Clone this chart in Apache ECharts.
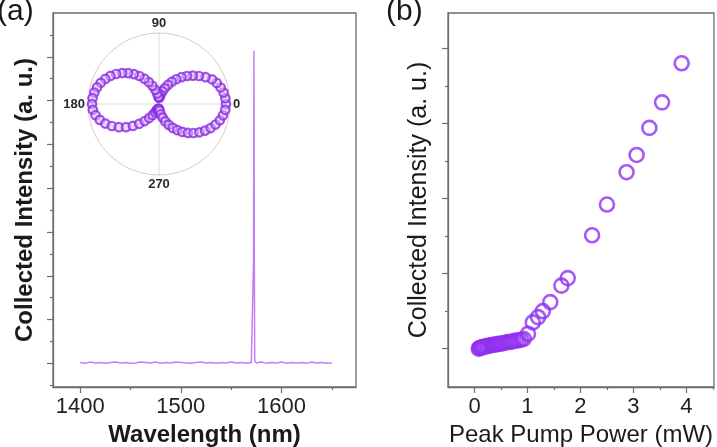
<!DOCTYPE html>
<html>
<head>
<meta charset="utf-8">
<script src="https://cdn.jsdelivr.net/npm/echarts@6/dist/echarts.min.js"></script>
<style>
html,body{margin:0;padding:0;background:#fff;}
#chart{width:717px;height:447px;}
</style>
</head>
<body>
<div id="chart"></div>
<script>
// ---------- Panel (a): spectrum ----------
const specWl = [1400,1405,1410,1415,1420,1425,1430,1435,1440,1445,1450,1455,1460,1465,1470,1475,1480,1485,1490,1495,1500,1505,1510,1515,1520,1525,1530,1535,1540,1545,1550,1555,1560,1565,1570,1571.8,1572.2,1572.6,1573.0,1573.4,1575,1580,1585,1590,1595,1600,1605,1610,1615,1620,1625,1630,1635,1640,1645,1650];
const specI = [0.02,0.00,0.03,0.01,0.02,0.00,0.02,0.03,0.01,0.02,0.00,0.01,0.03,0.02,0.01,0.03,0.00,0.02,0.01,0.03,0.02,0.01,0.00,0.02,0.03,0.01,0.02,0.00,0.02,0.01,0.03,0.01,0.02,0.00,0.02,0.05,2.3,7.14,2.3,0.06,0.01,0.03,0.00,0.02,0.01,0.03,0.00,0.02,0.01,0.02,0.00,0.03,0.01,0.02,0.00,0.01];
const aXTicks = [1400,1500,1600];
const aXMinor = [1450,1550,1650];
const aYTicks = [0,1,2,3,4,5,6,7];
const aYMinor = [-0.5,0.5,1.5,2.5,3.5,4.5,5.5,6.5,7.5];

// ---------- Inset: polar plot ----------
const polarAngle = [0,5,10,15,20,25,30,35,40,45,50,55,60,65,70,75,80,85,90,95,100,105,110,115,120,125,130,135,140,145,150,155,160,165,170,175,180,185,190,195,200,205,210,215,220,225,230,235,240,245,250,255,260,265,270,275,280,285,290,295,300,305,310,315,320,325,330,335,340,345,350,355];
const polarR = [67,66.6,65.6,63.8,61.5,58.5,53.7,48.8,44.1,39.6,35.0,30.2,25.6,21.0,16.7,13.0,9.5,6.8,6,7.2,10.6,14.7,19.4,24.2,29.2,34.2,39.0,43.7,48.1,52.3,56.1,59.3,62.0,64.2,65.7,66.7,67,66.4,64.4,61.3,57.1,52.0,46.4,40.3,34.1,28.0,22.3,17.2,12.7,9.1,6.6,5.4,5.0,4.9,5,6.8,10.4,14.1,18.5,23.0,27.6,32.0,36.4,40.9,45.1,49.3,53.2,56.9,60.1,63.0,65.0,66.5];
const polarTicks = [0,90,180,270];

// ---------- Panel (b): intensity vs pump power ----------
const powX = [0.08,0.10,0.12,0.14,0.16,0.19,0.22,0.25,0.28,0.32,0.36,0.40,0.44,0.48,0.53,0.58,0.63,0.68,0.73,0.78,0.83,0.88,0.93,1.01,1.10,1.20,1.29,1.43,1.64,1.76,2.22,2.50,2.87,3.06,3.30,3.54,3.91];
const powY = [0.00,0.01,0.01,0.02,0.02,0.03,0.03,0.04,0.04,0.05,0.05,0.06,0.06,0.07,0.07,0.08,0.09,0.09,0.10,0.11,0.11,0.12,0.13,0.20,0.35,0.42,0.50,0.62,0.84,0.94,1.51,1.92,2.35,2.58,2.94,3.28,3.80];
const bXTicks = [0,1,2,3,4];
const bXMinor = [0.5,1.5,2.5,3.5,4.5];
const bYTicks = [0,1,2,3,4];
const bYMinor = [0.5,1.5,2.5,3.5];

const FONT = "'Liberation Sans', Arial, sans-serif";
const AX = '#6e6e6e';
const plain = function(v){ return String(v); };

function axisBase(extra){
  return Object.assign({
    type:'value',
    axisLine:{show:true, onZero:false, lineStyle:{color:AX, width:1.3}},
    splitLine:{show:false},
    axisLabel:{show:false},
    axisTick:{show:true}
  }, extra);
}

const chart = echarts.init(document.getElementById('chart'), null, {renderer:'canvas'});
chart.setOption({
  animation:false,
  backgroundColor:'#fff',
  title:[
    {text:'(a)', left:-3, top:-3, padding:0, textStyle:{fontFamily:FONT, fontSize:30, fontWeight:'normal', color:'#1a1a1a'}},
    {text:'(b)', left:386, top:-3, padding:0, textStyle:{fontFamily:FONT, fontSize:30, fontWeight:'normal', color:'#1a1a1a'}}
  ],
  grid:[
    {left:53, top:13, width:303, height:374, show:true, borderColor:AX, borderWidth:1.3, backgroundColor:'transparent', containLabel:false, outerBoundsMode:'none'},
    {left:448, top:13, width:266, height:374, show:true, borderColor:AX, borderWidth:1.3, backgroundColor:'transparent', containLabel:false, outerBoundsMode:'none'}
  ],
  xAxis:[
    axisBase({gridIndex:0, position:'bottom', min:1373, max:1674,
      axisTick:{show:true, length:6, customValues:aXTicks, lineStyle:{color:AX, width:1.2}},
      axisLabel:{show:true, customValues:aXTicks, formatter:plain, margin:9, fontFamily:FONT, fontSize:22, color:'#222'},
      name:'Wavelength (nm)', nameLocation:'middle', nameGap:32,
      nameTextStyle:{fontFamily:FONT, fontSize:24, fontWeight:'bold', color:'#1a1a1a'}}),
    axisBase({gridIndex:0, position:'bottom', min:1373, max:1674,
      axisLine:{show:false, onZero:false},
      axisTick:{show:true, length:3, customValues:aXMinor, lineStyle:{color:AX, width:1.2}}}),
    axisBase({gridIndex:1, position:'bottom', min:-0.5, max:4.52,
      axisTick:{show:true, length:6, customValues:bXTicks, lineStyle:{color:AX, width:1.2}},
      axisLabel:{show:true, customValues:bXTicks, formatter:plain, margin:9, fontFamily:FONT, fontSize:22, color:'#222'},
      name:'Peak Pump Power (mW)', nameLocation:'middle', nameGap:32,
      nameTextStyle:{fontFamily:FONT, fontSize:24, fontWeight:'normal', color:'#1a1a1a'}}),
    axisBase({gridIndex:1, position:'bottom', min:-0.5, max:4.52,
      axisLine:{show:false, onZero:false},
      axisTick:{show:true, length:3, customValues:bXMinor, lineStyle:{color:AX, width:1.2}}})
  ],
  yAxis:[
    axisBase({gridIndex:0, position:'left', min:-0.54, max:8,
      axisTick:{show:true, length:6, customValues:aYTicks, lineStyle:{color:AX, width:1.2}},
      name:'Collected Intensity (a. u.)', nameLocation:'middle', nameGap:16,
      nameTextStyle:{fontFamily:FONT, fontSize:24, fontWeight:'bold', color:'#1a1a1a'}}),
    axisBase({gridIndex:0, position:'left', min:-0.54, max:8,
      axisLine:{show:false, onZero:false},
      axisTick:{show:true, length:3, customValues:aYMinor, lineStyle:{color:AX, width:1.2}}}),
    axisBase({gridIndex:1, position:'left', min:-0.51, max:4.47,
      axisTick:{show:true, length:6, customValues:bYTicks, lineStyle:{color:AX, width:1.2}},
      name:'Collected Intensity (a. u.)', nameLocation:'middle', nameGap:16,
      nameTextStyle:{fontFamily:FONT, fontSize:25, fontWeight:'normal', color:'#1a1a1a'}}),
    axisBase({gridIndex:1, position:'left', min:-0.51, max:4.47,
      axisLine:{show:false, onZero:false},
      axisTick:{show:true, length:3, customValues:bYMinor, lineStyle:{color:AX, width:1.2}}})
  ],
  polar:{center:[159,104], radius:71},
  angleAxis:{
    type:'value', min:0, max:360, interval:90, startAngle:0, clockwise:false,
    axisLine:{show:true, lineStyle:{color:'#e2c6c6', width:1}},
    axisTick:{show:false},
    axisLabel:{show:true, margin:3, fontFamily:FONT, fontSize:13, fontWeight:'bold', color:'#2a2a2a',
      formatter:function(v){ return polarTicks.indexOf(v) >= 0 ? String(v) : ''; }},
    splitLine:{show:true, lineStyle:{color:'#dcdcdc', width:1}}
  },
  radiusAxis:{
    type:'value', min:0, max:71,
    axisLine:{show:false}, axisTick:{show:false}, axisLabel:{show:false}, splitLine:{show:false}
  },
  series:[
    {type:'line', xAxisIndex:0, yAxisIndex:0, showSymbol:false, symbol:'none',
      lineStyle:{color:'#c17ef6', width:1.5},
      data:specWl.map(function(w,i){return [w, specI[i]];})},
    {type:'scatter', coordinateSystem:'polar', symbol:'circle', symbolSize:8.5,
      itemStyle:{color:'rgba(220,190,250,0.7)', borderColor:'#8a2be2', borderWidth:2.2},
      data:polarAngle.map(function(a,i){return [polarR[i], a];})},
    {type:'scatter', xAxisIndex:2, yAxisIndex:2, symbol:'circle', symbolSize:14,
      itemStyle:{color:'rgba(0,0,0,0)', borderColor:'#9130f0', borderWidth:2.6},
      data:powX.map(function(x,i){return [x, powY[i]];})}
  ]
});
</script>
</body>
</html>
